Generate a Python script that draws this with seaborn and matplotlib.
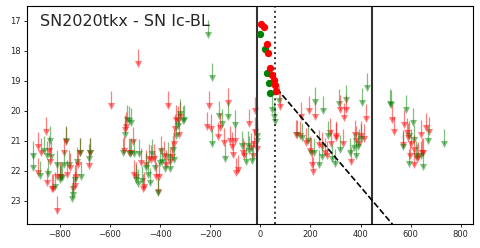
import numpy as np
import pandas as pd
import matplotlib
matplotlib.use("Agg")
import matplotlib.pyplot as plt
import seaborn as sns

# Upper limits (days from discovery, magnitude) per band
ul_r_days = [-889, -887, -876, -857, -850, -845, -838, -832, -826, -812, -810, -800, -795, -785,
             -775, -770, -760, -748, -740, -735, -728, -718, -685, -680,
             -598, -490, -545, -540, -535, -525, -515, -510, -505, -495, -478, -470, -465, -458,
             -445, -438, -425, -415, -410, -405, -397, -385, -375, -370, -360, -352, -345, -340,
             -335, -330, -325, -320,
             -207, -213, -197, -171, -160, -131, -147, -122, -115, -103, -111, -97, -91, -70,
             -66, -44, -37, -20, -21, -12, -25, -30,
             79,
             193, 220, 163, 143, 160, 183, 200, 207, 212, 233, 246, 260, 265, 279, 300, 283,
             303, 316, 330, 340, 333, 362, 376, 383, 420, 413, 392, 402,
             527, 533, 573, 569, 590, 584, 603, 612, 625, 630, 643, 663, 645, 650, 673, 598, 615]
ul_r_mag = [21.19, 22.06, 21.39, 20.72, 22.4, 21.35, 21.7, 22.6, 22.6, 22.2, 23.35, 22.2, 22.2, 21.4,
            21.05, 22.15, 21.9, 22.6, 22.5, 22.2, 21.8, 21.4, 21.85, 21.4,
            19.85, 18.45, 21.35, 20.65, 20.55, 21.4, 21.4, 21.05, 22.15, 22.2, 21.75, 22.6, 22.55, 21.8,
            21.6, 21.65, 21.6, 22.2, 22.7, 22.2, 21.35, 21.5, 21.8, 19.85, 21.7, 21.55, 21.1, 20.6,
            20.3, 20.35, 20.8, 20.2,
            19.83, 20.54, 20.6, 20.86, 20.58, 19.74, 21.06, 21.0, 21.2, 21.0, 21.47, 22.08, 21.97, 21.42,
            21.5, 20.43, 21.25, 20.02, 20.72, 21.28, 21.1, 21.5,
            19.86,
            19.99, 20.21, 20.21, 20.8, 20.85, 21.08, 21.35, 21.81, 22.03, 21.14, 21.2, 21.4, 21.51, 20.74,
            20.85, 21.1, 20.9, 19.97, 21.1, 19.97, 20.24, 21.7, 20.8, 21.0, 20.28, 20.95, 21.1, 20.85,
            20.3, 20.69, 20.47, 21.13, 20.9, 20.75, 21.1, 21.8, 21.6, 21.55, 20.8, 20.58, 21.4, 21.4,
            20.7, 21.5, 21.3]

ul_g_days = [-907, -909, -879, -865, -850, -846, -840, -835, -820, -810, -800, -792, -782, -776,
             -765, -752, -748, -740, -730, -720, -715, -683, -682,
             -548, -540, -532, -525, -520, -515, -505, -497, -490, -483, -472, -455, -450, -440,
             -432, -420, -410, -400, -392, -380, -370, -362, -350, -345, -338, -330, -320, -310, -305,
             -208, -195, -195, -167, -155, -131, -101, -141, -75, -57, -51, -33, -15, -15, -45,
             47, 56, 59, 73,
             220, 252, 148, 165, 190, 203, 236, 216, 247, 268, 296, 313, 287, 343, 317, 356,
             372, 380, 407, 425, 390, 400,
             519, 523, 580, 609, 569, 595, 612, 593, 620, 649, 669, 733, 640]
ul_g_mag = [21.52, 21.89, 22.17, 21.35, 21.5, 22.1, 21.0, 21.55, 22.55, 21.8, 22.3, 22.25, 21.8, 21.0,
            21.8, 22.95, 22.8, 22.3, 21.7, 21.4, 22.2, 21.6, 21.4,
            21.4, 20.8, 20.3, 20.35, 21.45, 20.4, 21.45, 22.3, 22.45, 21.45, 22.35, 21.9, 22.15, 22.4,
            21.45, 21.9, 22.75, 21.75, 21.7, 21.95, 21.55, 21.95, 21.3, 21.65, 20.85, 20.5, 20.1, 20.35, 20.3,
            17.47, 18.89, 21.1, 20.17, 20.43, 20.2, 20.47, 21.6, 21.17, 21.72, 21.17, 21.68, 20.83, 21.0, 21.35,
            19.97, 20.21, 20.36, 19.66,
            19.69, 19.99, 20.8, 20.9, 21.0, 21.4, 21.81, 21.41, 21.55, 20.85, 21.78, 19.77, 21.6, 19.63,
            21.3, 21.4, 21.25, 21.5, 19.73, 19.24, 21.2, 20.95,
            19.77, 19.8, 19.97, 20.41, 21.2, 20.85, 20.96, 21.77, 21.5, 21.86, 20.99, 21.1, 21.5]

# Detections
det_r_days = [3, 13, 25, 29, 39, 45, 53, 59, 63]
det_r_mag = [17.1, 17.19, 17.77, 18.06, 18.58, 18.8, 18.97, 19.13, 19.32]
det_g_days = [0, 19, 27, 33, 40]
det_g_mag = [17.43, 17.94, 18.74, 19.06, 19.39]

# Markers on the time axis
first_det = -13
peak_day = 59
last_line = 444
decay_start = (65, 19.25)
decay_rate = 0.0098  # mag / day

sns.set_style("ticks")
plt.rcParams['font.family'] = ['DejaVu Sans']

fig = plt.figure(figsize=(4.8, 2.48), dpi=100)
ax = fig.add_axes([0.056, 0.097, 0.929, 0.879])

for days, mags, col in [(ul_r_days, ul_r_mag, "red"), (ul_g_days, ul_g_mag, "green")]:
    days = np.array(days)
    mags = np.array(mags)
    ax.vlines(days, mags - 0.5, mags, colors=col, alpha=0.5, lw=0.9)
    sns.scatterplot(x=days, y=mags, marker="v", color=col, alpha=0.5, s=26,
                    linewidth=0, ax=ax)

sns.scatterplot(x=det_g_days, y=det_g_mag, color="green", s=28, linewidth=0, ax=ax, zorder=3)
sns.scatterplot(x=det_r_days, y=det_r_mag, color="red", s=28, linewidth=0, ax=ax, zorder=3)

ax.axvline(first_det, color="0.2", lw=1.5)
ax.axvline(last_line, color="0.2", lw=1.5)
ax.axvline(peak_day, color="0.2", lw=1.4, ls=":")

xd = np.array([decay_start[0], 700])
ax.plot(xd, decay_start[1] + decay_rate * (xd - decay_start[0]), color="black", ls="--", lw=1.2)

ax.set_xlim(-932, 848)
ax.set_ylim(23.77, 16.5)
ax.set_xticks(range(-800, 801, 200))
ax.set_yticks(range(17, 24))
ax.tick_params(labelsize=6, length=2.5, width=0.7, pad=2)
for sp in ax.spines.values():
    sp.set_linewidth(0.8)
    sp.set_color("black")

ax.text(0.03, 0.965, "SN2020tkx - SN Ic-BL", transform=ax.transAxes,
        fontsize=11.5, va="top", ha="left")

fig.savefig("out.png", dpi=100)
